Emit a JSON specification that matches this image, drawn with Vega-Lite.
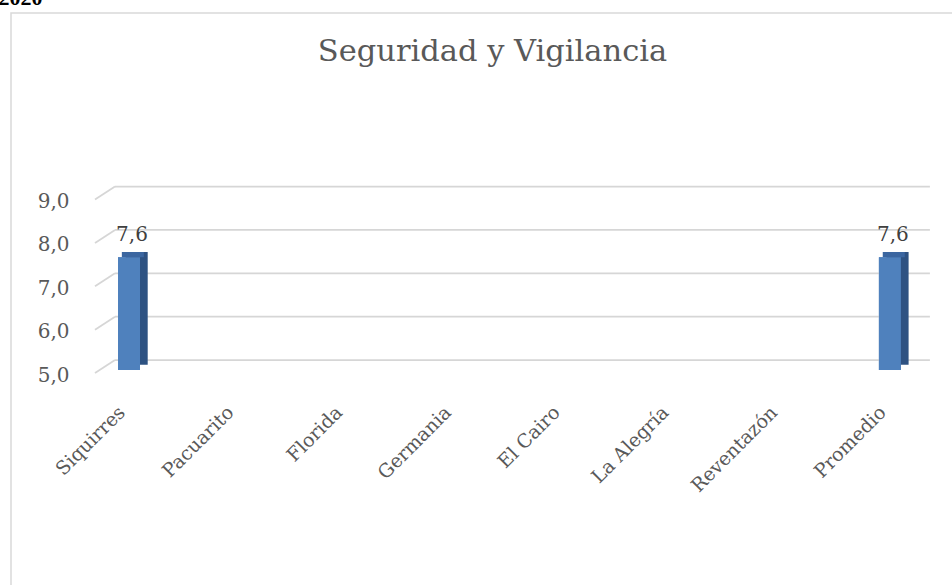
{
  "$schema": "https://vega.github.io/schema/vega-lite/v6.json",
  "autosize": {"type": "none"},
  "width": 951,
  "height": 582,
  "padding": {"left": 11, "top": 13, "right": -10, "bottom": -10},
  "background": "white",
  "config": {
    "locale": {"number": {"decimal": ",", "thousands": ".", "grouping": [3], "currency": ["", " €"]}},
    "view": {"stroke": "#d9d9d9", "strokeWidth": 1.5},
    "font": "DejaVu Serif"
  },
  "title": {
    "text": "Seguridad y Vigilancia",
    "font": "DejaVu Serif",
    "fontSize": 30.5,
    "fontWeight": "normal",
    "color": "#595959",
    "anchor": "middle",
    "dx": 6,
    "offset": -81
  },
  "datasets": {
    "barras": [
      {"distrito": "Siquirres", "valor": 7.6},
      {"distrito": "Pacuarito", "valor": null},
      {"distrito": "Florida", "valor": null},
      {"distrito": "Germania", "valor": null},
      {"distrito": "El Cairo", "valor": null},
      {"distrito": "La Alegría", "valor": null},
      {"distrito": "Reventazón", "valor": null},
      {"distrito": "Promedio", "valor": 7.6}
    ],
    "grid": [{"v": 5}, {"v": 6}, {"v": 7}, {"v": 8}, {"v": 9}]
  },
  "layer": [
    {
      "data": {"name": "barras"},
      "mark": {"type": "bar", "color": "#4f81bd", "width": 22},
      "encoding": {
        "x": {
          "field": "distrito",
          "type": "nominal",
          "sort": null,
          "scale": {
            "domain": ["Siquirres", "Pacuarito", "Florida", "Germania", "El Cairo", "La Alegría", "Reventazón", "Promedio"],
            "range": [63.65, 933.25],
            "paddingInner": 0,
            "paddingOuter": 0
          },
          "axis": {
            "orient": "bottom",
            "offset": -188,
            "title": null,
            "ticks": false,
            "tickSize": 0,
            "domain": false,
            "grid": false,
            "labelAngle": -45,
            "labelAlign": "right",
            "labelBaseline": "middle",
            "labelPadding": 2,
            "labelOffset": -7,
            "labelFont": "DejaVu Serif",
            "labelFontSize": 19,
            "labelColor": "#595959",
            "labelOverlap": false
          }
        },
        "y": {
          "field": "valor",
          "type": "quantitative",
          "scale": {"domain": [5, 9], "range": [357, 183.6], "zero": false, "nice": false},
          "axis": {
            "orient": "left",
            "offset": -58,
            "values": [5, 6, 7, 8, 9],
            "format": ".1f",
            "title": "2020",
            "titleAngle": 0,
            "titleX": -71,
            "titleY": -9,
            "titleAlign": "left",
            "titleBaseline": "alphabetic",
            "titleFont": "Liberation Serif",
            "titleFontSize": 22,
            "titleFontWeight": "bold",
            "titleColor": "black",
            "ticks": false,
            "tickSize": 0,
            "domain": false,
            "grid": false,
            "labelPadding": 0,
            "labelOffset": 5,
            "labelFont": "DejaVu Serif",
            "labelFontSize": 20,
            "labelColor": "#595959",
            "labelFlush": false,
            "labelOverlap": false
          }
        },
        "y2": {"datum": 5}
      }
    },
    {
      "data": {"name": "grid"},
      "mark": {"type": "rule", "color": "#d6d6d6", "strokeWidth": 1.75, "xOffset": -14, "x2Offset": 40, "yOffset": -10},
      "encoding": {
        "y": {"field": "v", "type": "quantitative"},
        "x": {"datum": "Siquirres", "type": "nominal"},
        "x2": {"datum": "Promedio"}
      }
    },
    {
      "data": {"name": "grid"},
      "mark": {"type": "rule", "color": "#d6d6d6", "strokeWidth": 1.75, "xOffset": -34, "x2Offset": -14, "yOffset": 3, "y2Offset": -10},
      "encoding": {
        "y": {"field": "v", "type": "quantitative"},
        "y2": {"field": "v"},
        "x": {"datum": "Siquirres", "type": "nominal"},
        "x2": {"datum": "Siquirres"}
      }
    },
    {
      "data": {"name": "barras"},
      "mark": {"type": "bar", "color": "#2e5282", "width": 22, "xOffset": 7.7, "yOffset": -5.3, "y2Offset": -5.3},
      "encoding": {
        "x": {"field": "distrito", "type": "nominal", "sort": null},
        "y": {"field": "valor", "type": "quantitative"},
        "y2": {"datum": 5}
      }
    },
    {
      "data": {"name": "barras"},
      "mark": {"type": "bar", "color": "#3b66a0", "width": 22, "xOffset": 3.85, "yOffset": -5.3, "y2Offset": 0},
      "encoding": {
        "x": {"field": "distrito", "type": "nominal", "sort": null},
        "y": {"field": "valor", "type": "quantitative"},
        "y2": {"field": "valor"}
      }
    },
    {
      "data": {"name": "barras"},
      "mark": {"type": "bar", "color": "#4f81bd", "width": 22},
      "encoding": {
        "x": {"field": "distrito", "type": "nominal", "sort": null},
        "y": {"field": "valor", "type": "quantitative"},
        "y2": {"datum": 5}
      }
    },
    {
      "data": {"name": "barras"},
      "mark": {"type": "text", "font": "DejaVu Serif", "fontSize": 20, "color": "#404040", "baseline": "alphabetic", "dy": -16, "xOffset": 3},
      "encoding": {
        "x": {"field": "distrito", "type": "nominal", "sort": null},
        "y": {"field": "valor", "type": "quantitative"},
        "text": {"field": "valor", "type": "quantitative", "format": ".1f"}
      }
    }
  ]
}
